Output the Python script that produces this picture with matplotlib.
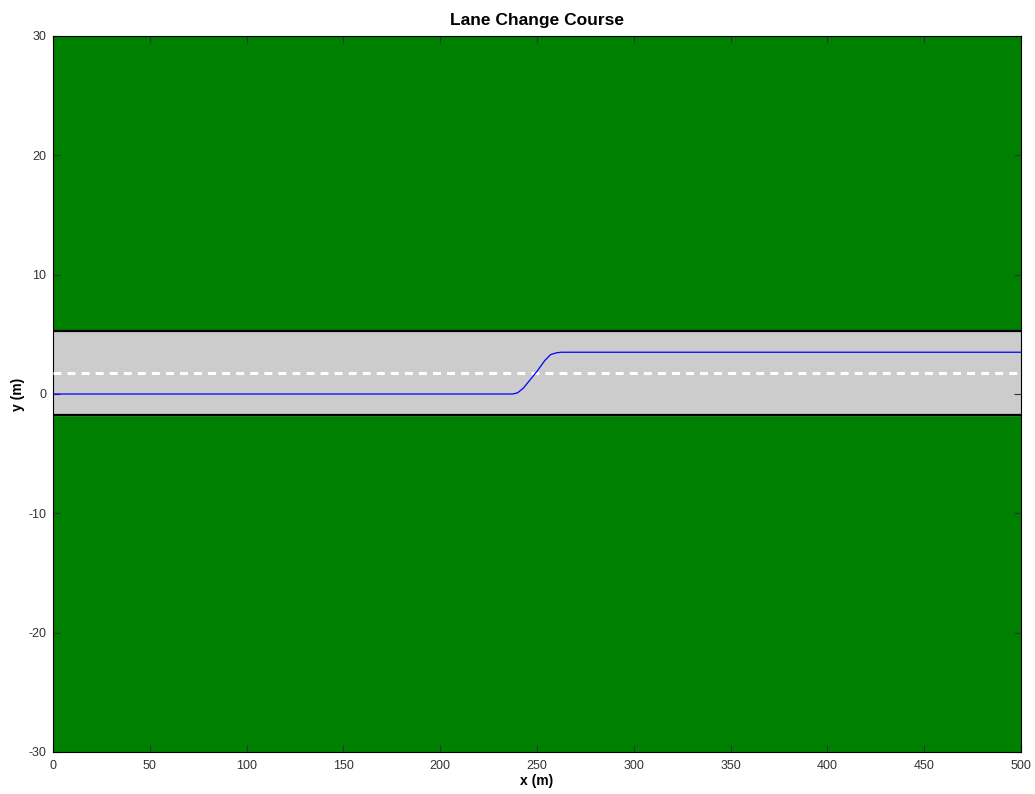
#!/usr/bin/env python
# -*- coding: utf-8 -*-

import matplotlib
matplotlib.use('Agg')
import matplotlib.pyplot as plt

# road geometry (m)
road_x = [0, 500]
road_bottom = -1.75
road_top = 5.25
lane_center = 1.75

# vehicle path
path_x = [0, 237.5, 240, 243, 246, 250, 254, 257, 260, 262.5, 500]
path_y = [0, 0, 0.1, 0.5, 1.1, 1.9, 2.8, 3.3, 3.45, 3.5, 3.5]

xticks = list(range(0, 501, 50))
yticks = [-30, -20, -10, 0, 10, 20, 30]

plt.rcParams['font.family'] = ['Liberation Sans', 'DejaVu Sans']
plt.rcParams['axes.unicode_minus'] = False

fig = plt.figure(figsize=(10.35, 7.94), dpi=100)
ax = fig.add_axes([53/1035, 42/794, 968/1035, 716/794])
ax.set_facecolor('#008000')

# road surface and edges
ax.fill_between(road_x, road_bottom, road_top, color='#cccccc', zorder=1)
ax.plot(road_x, [road_top, road_top], color='black', lw=1.6, zorder=2)
ax.plot(road_x, [road_bottom, road_bottom], color='black', lw=1.6, zorder=2)
ax.plot(road_x, [lane_center, lane_center], color='white', lw=2.2,
        linestyle=(0, (2.6, 2.0)), zorder=3)

# path
ax.plot(path_x, path_y, color='blue', lw=0.9, zorder=4)

ax.set_xlim(0, 500)
ax.set_ylim(-30, 30)
ax.set_xticks(xticks)
ax.set_yticks(yticks)
ax.tick_params(direction='in', length=5, top=True, right=True,
               labelsize=9, colors='#333333')
ax.tick_params(axis='x', pad=6)
ax.tick_params(axis='y', pad=5)
for s in ax.spines.values():
    s.set_color('black')
    s.set_linewidth(0.8)

ax.set_title('Lane Change Course', fontsize=12.5, fontweight='bold', pad=8)
ax.set_xlabel('x (m)', fontsize=10, fontweight='bold', labelpad=1)
ax.set_ylabel('y (m)', fontsize=10, fontweight='bold', labelpad=2)

plt.savefig('out.png', dpi=100)
